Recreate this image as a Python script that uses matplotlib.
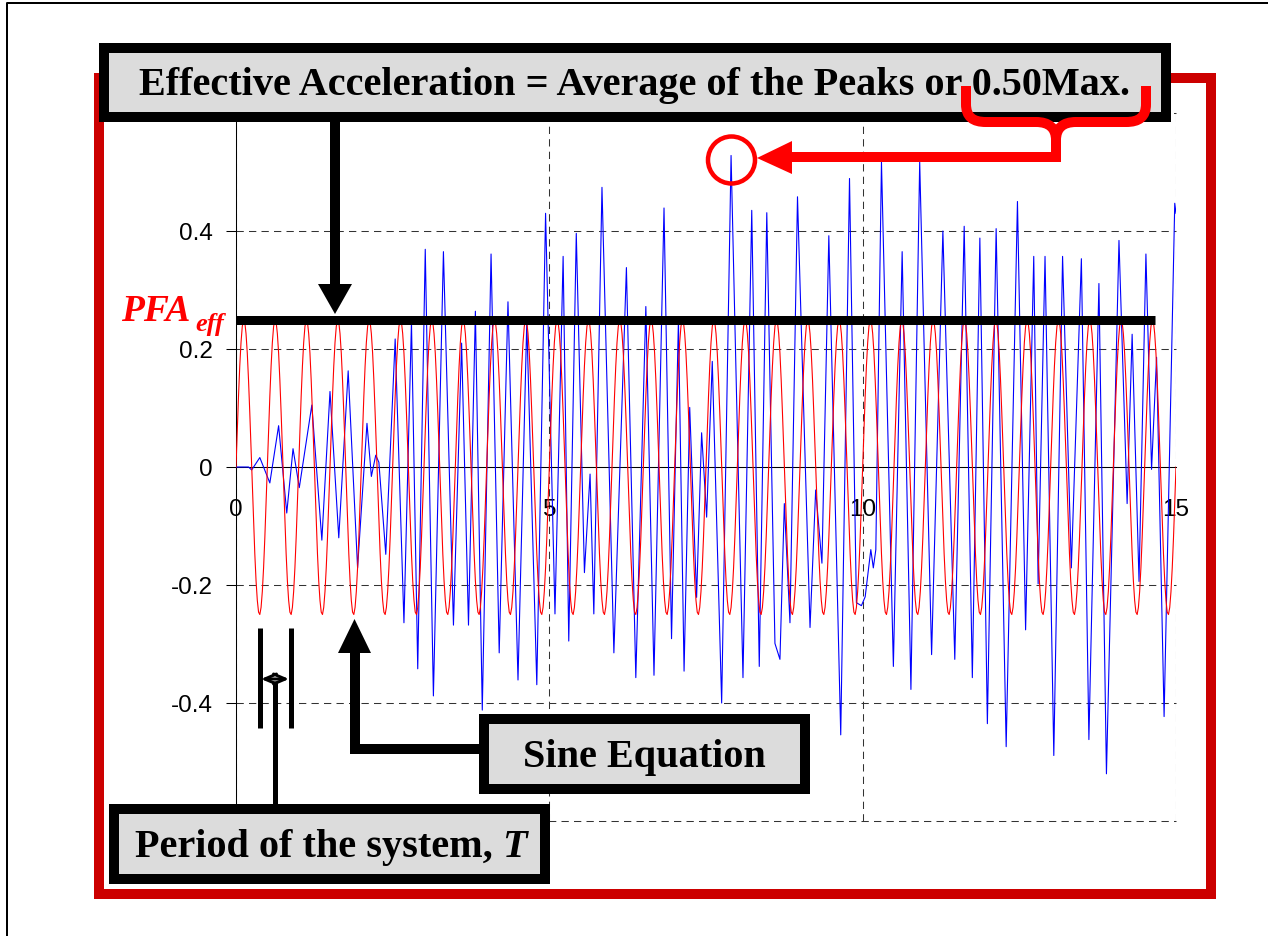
import matplotlib.pyplot as plt
import numpy as np
from matplotlib.patches import Rectangle, Polygon, Circle, PathPatch
from matplotlib.path import Path

t_record = [0.00, 0.20, 0.25, 0.38, 0.54, 0.68, 0.81, 0.91, 1.01, 1.21, 1.37, 1.50, 1.64, 1.79,
            1.94, 2.09, 2.16, 2.23, 2.28, 2.39, 2.54, 2.68, 2.80, 2.90, 3.02, 3.15, 3.31, 3.47,
            3.60, 3.71, 3.82, 3.93, 4.07, 4.20, 4.34, 4.50, 4.64, 4.80, 4.94, 5.09, 5.22, 5.31,
            5.43, 5.56, 5.65, 5.71, 5.84, 6.03, 6.23, 6.38, 6.54, 6.67, 6.83, 6.95, 7.06, 7.15,
            7.24, 7.35, 7.43, 7.51, 7.60, 7.75, 7.90, 8.09, 8.23, 8.35, 8.47, 8.60, 8.68, 8.75,
            8.84, 8.96, 9.16, 9.25, 9.35, 9.46, 9.65, 9.79, 9.90, 9.98, 10.04, 10.13, 10.17,
            10.21, 10.30, 10.49, 10.63, 10.77, 10.91, 11.10, 11.28, 11.47, 11.62, 11.75, 11.87,
            11.99, 12.13, 12.29, 12.47, 12.60, 12.73, 12.80, 12.91, 13.05, 13.19, 13.33, 13.49,
            13.61, 13.77, 13.89, 14.09, 14.22, 14.30, 14.41, 14.52, 14.61, 14.69, 14.81, 14.98,
            15.00]
a_record = [0.000, 0.000, -0.005, 0.016, -0.027, 0.070, -0.078, 0.031, -0.035, 0.105, -0.124,
            0.128, -0.120, 0.163, -0.171, 0.074, -0.016, 0.020, 0.008, -0.148, 0.217, -0.264,
            0.245, -0.342, 0.369, -0.388, 0.365, -0.268, 0.210, -0.268, 0.264, -0.412, 0.361,
            -0.315, 0.280, -0.361, 0.245, -0.369, 0.430, -0.249, 0.357, -0.295, 0.396, -0.179,
            -0.012, -0.249, 0.474, -0.315, 0.338, -0.357, 0.272, -0.353, 0.439, -0.291, 0.249,
            -0.346, 0.101, -0.221, 0.058, -0.085, 0.179, -0.400, 0.528, -0.357, 0.435, -0.338,
            0.431, -0.299, -0.326, -0.062, -0.264, 0.458, -0.272, -0.039, -0.163, 0.392, -0.454,
            0.489, -0.230, -0.235, -0.220, -0.140, -0.171, -0.140, 0.517, -0.338, 0.365, -0.377,
            0.517, -0.318, 0.400, -0.326, 0.408, -0.357, 0.388, -0.435, 0.404, -0.474, 0.450,
            -0.276, 0.357, -0.198, 0.357, -0.489, 0.357, -0.171, 0.353, -0.462, 0.311, -0.520,
            0.384, -0.062, 0.225, -0.194, 0.361, -0.004, 0.186, -0.423, 0.447, 0.430]

# one cycle of the sine equation (T = 0.5 s), sampled every 0.02 s
sine_cycle = [0.000, 0.062, 0.120, 0.171, 0.211, 0.238, 0.250, 0.246, 0.226, 0.193, 0.147,
              0.092, 0.031, -0.031, -0.092, -0.147, -0.193, -0.226, -0.246, -0.250, -0.238,
              -0.211, -0.171, -0.120, -0.062]
sine_dt = 0.02
n_cycles = 30

pfa_eff = 0.25
pfa_end = 14.67

x_ticks = [0, 5, 10, 15]
x_labels = ["0", "5", "10", "15"]
y_ticks = [-0.6, -0.4, -0.2, 0, 0.2, 0.4, 0.6]
# the -0.6 label sits under the "Period" box in the original, so it is left blank
y_labels = ["", "-0.4", "-0.2", "0", "0.2", "0.4", "0.6"]

PX = 0.72  # points per pixel at dpi 100
SERIF = ["Liberation Serif", "DejaVu Serif"]
BOX_FS = 29

plt.rcParams["font.family"] = ["Liberation Sans", "DejaVu Sans"]

sine_y = np.append(np.tile(sine_cycle, n_cycles), 0.0)
sine_t = np.arange(len(sine_y)) * sine_dt

fig = plt.figure(figsize=(12.68, 9.36), dpi=100)
ax = fig.add_axes([236 / 1268, 1 - 821 / 936, 940 / 1268, 708 / 936])

ax.plot(t_record, a_record, color="#0000FF", lw=0.8, zorder=3)
ax.plot(sine_t, sine_y, color="#FF0000", lw=0.8, zorder=4)
ax.plot([0, pfa_end], [pfa_eff, pfa_eff], color="black", lw=9 * PX,
        solid_capstyle="butt", zorder=5)

ax.set_xlim(0, 15)
ax.set_ylim(-0.6, 0.6)
ax.set_xticks(x_ticks, x_labels)
ax.set_yticks(y_ticks, y_labels)
ax.grid(True, color="#333333", lw=0.75, linestyle=(0, (7, 5)))
ax.set_axisbelow(True)
for gl in ax.get_xgridlines() + ax.get_ygridlines():
    gl.set_clip_on(False)

for side in ["top", "right"]:
    ax.spines[side].set_visible(False)
ax.spines["bottom"].set_position(("data", 0))
ax.spines["bottom"].set_linewidth(0.75)
ax.spines["left"].set_linewidth(0.75)
ax.tick_params(axis="x", length=0, pad=23, labelsize=17.5)
ax.tick_params(axis="y", length=7, width=0.75, direction="out", pad=10, labelsize=17.5)

# overlay in pixel coordinates for the call-outs
ov = fig.add_axes([0, 0, 1, 1], zorder=10)
ov.set_xlim(0, 1268)
ov.set_ylim(936, 0)
ov.axis("off")

# page frame and red border
ov.plot([7, 7, 1268], [936, 3, 3], color="black", lw=2 * PX)
ov.add_patch(Rectangle((99, 77.5), 1111.5, 816.5, fill=False, ec="#CC0000",
                       lw=10 * PX, joinstyle="miter"))


def label_box(x0, y0, x1, y1):
    ov.add_patch(Rectangle((x0 + 5, y0 + 5), x1 - x0 - 10, y1 - y0 - 10, fc="#DCDCDC",
                           ec="black", lw=10 * PX, joinstyle="miter"))


# top call-out
label_box(99, 43, 1171, 122)
ov.text(634.5, 95, "Effective Acceleration = Average of the Peaks or 0.50Max.",
        ha="center", va="baseline", fontsize=BOX_FS, fontweight="bold", family=SERIF)
ov.add_patch(Rectangle((330, 122), 10, 163, fc="black", ec="none"))
ov.add_patch(Polygon([(318, 284), (352, 284), (335, 314)], fc="black", ec="none"))

# red brace pointing at the max peak
brace = Path([(966, 86), (966, 104), (966, 117), (973, 122), (986, 122), (1036, 122),
              (1049, 122), (1056, 128), (1056, 140), (1056, 160),
              (1146, 86), (1146, 104), (1146, 117), (1139, 122), (1126, 122), (1076, 122),
              (1063, 122), (1056, 128), (1056, 140)],
             [Path.MOVETO, Path.LINETO, Path.CURVE4, Path.CURVE4, Path.CURVE4, Path.LINETO,
              Path.CURVE4, Path.CURVE4, Path.CURVE4, Path.LINETO,
              Path.MOVETO, Path.LINETO, Path.CURVE4, Path.CURVE4, Path.CURVE4, Path.LINETO,
              Path.CURVE4, Path.CURVE4, Path.CURVE4])
ov.add_patch(PathPatch(brace, fill=False, ec="#FF0000", lw=10 * PX, capstyle="butt",
                       joinstyle="round"))
ov.plot([1061, 790], [157, 157], color="#FF0000", lw=10 * PX, solid_capstyle="butt")
ov.add_patch(Polygon([(792, 141), (792, 174), (757, 158)], fc="#FF0000", ec="none"))
ov.add_patch(Circle((731.5, 160), 23.5, fill=False, ec="#FF0000", lw=4.5 * PX))

# PFA_eff label
ov.text(121, 321, "PFA", color="#FF0000", fontsize=27, fontweight="bold",
        fontstyle="italic", family=SERIF)
ov.text(195, 331, "eff", color="#FF0000", fontsize=19, fontweight="bold",
        fontstyle="italic", family=SERIF)

# sine equation call-out
label_box(479, 714, 810, 794)
ov.text(644.5, 767.5, "Sine Equation", ha="center", va="baseline", fontsize=BOX_FS,
        fontweight="bold", family=SERIF)
ov.plot([479, 354.5, 354.5], [748.5, 748.5, 652], color="black", lw=10 * PX,
        solid_capstyle="butt", solid_joinstyle="miter")
ov.add_patch(Polygon([(338, 653), (371, 653), (354.5, 619)], fc="black", ec="none"))

# period call-out
label_box(109, 804, 550, 884)
ov.text(135, 857, "Period of the system,", ha="left", va="baseline", fontsize=BOX_FS,
        fontweight="bold", family=SERIF)
ov.text(527, 857, "T", ha="right", va="baseline", fontsize=BOX_FS, fontweight="bold",
        fontstyle="italic", family=SERIF)
ov.plot([259.5, 259.5], [628, 728], color="black", lw=5 * PX, solid_capstyle="butt")
ov.plot([290.5, 290.5], [628, 728], color="black", lw=5 * PX, solid_capstyle="butt")
ov.plot([274.5, 274.5], [681, 804], color="black", lw=5 * PX, solid_capstyle="butt")
ov.annotate("", xy=(261, 679), xytext=(289, 679),
            arrowprops=dict(arrowstyle="<->,head_length=0.7,head_width=0.3",
                            mutation_scale=12, lw=3 * PX, color="black",
                            shrinkA=0, shrinkB=0))

fig.savefig("out.png", dpi=100)
